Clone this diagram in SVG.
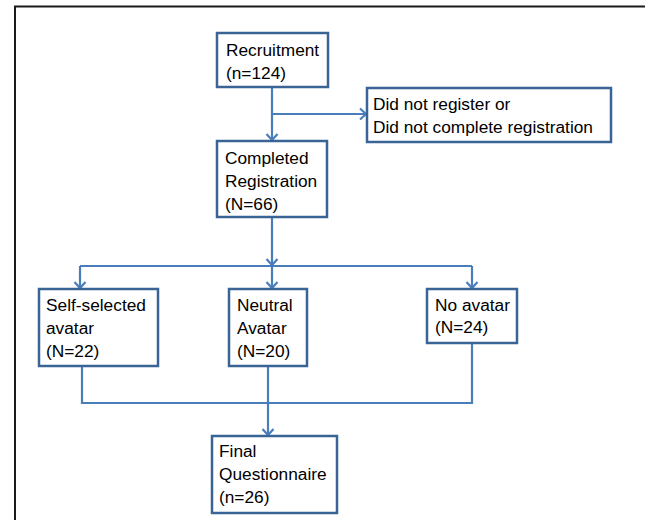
<svg xmlns="http://www.w3.org/2000/svg" width="645" height="520" viewBox="0 0 645 520">
<style>
.box{fill:#fff;stroke:#3a6496;stroke-width:2.5}
.t{font-family:"Liberation Sans",Arial,sans-serif;font-size:17.3px;fill:#000}
.c{fill:none;stroke:#4a7ebb;stroke-width:2.2}
.frame{fill:none;stroke:#1a1a1a;stroke-width:2}
</style>
<defs>
<marker id="arr" markerUnits="userSpaceOnUse" markerWidth="14" markerHeight="14" viewBox="0 0 14 14" refX="12" refY="7" orient="auto">
<path d="M6,1.5 L12,7 L6,12.5" fill="none" stroke="#4a7ebb" stroke-width="2.2"/>
</marker>
</defs>
<rect width="645" height="520" fill="#fff"/>
<path class="frame" d="M15,520 L15,6.5 L645,6.5"/>
<g id="connectors">
<path class="c" d="M272,87 L272,140" marker-end="url(#arr)"/>
<path class="c" d="M272,114 L366,114" marker-end="url(#arr)"/>
<path class="c" d="M272,217 L272,265" marker-end="url(#arr)"/>
<path class="c" d="M80,266 L472,266"/>
<path class="c" d="M80,266 L80,288" marker-end="url(#arr)"/>
<path class="c" d="M272,266 L272,288" marker-end="url(#arr)"/>
<path class="c" d="M472,266 L472,288" marker-end="url(#arr)"/>
<path class="c" d="M82,366 L82,403 L472,403 L472,343"/>
<path class="c" d="M268,366 L268,435" marker-end="url(#arr)"/>
</g>
<g id="recruitment">
<rect class="box" x="217" y="33" width="111" height="54"/>
<text class="t" x="226" y="56">Recruitment</text>
<text class="t" x="226" y="79">(n=124)</text>
</g>
<g id="not-registered">
<rect class="box" x="367" y="88" width="244" height="54"/>
<text class="t" x="373" y="110">Did not register or</text>
<text class="t" x="373" y="133">Did not complete registration</text>
</g>
<g id="completed">
<rect class="box" x="217" y="141" width="110" height="76"/>
<text class="t" x="225" y="164">Completed</text>
<text class="t" x="225" y="187">Registration</text>
<text class="t" x="225" y="210">(N=66)</text>
</g>
<g id="self-selected">
<rect class="box" x="39" y="289" width="119" height="77"/>
<text class="t" x="46" y="311">Self-selected</text>
<text class="t" x="46" y="334">avatar</text>
<text class="t" x="46" y="357">(N=22)</text>
</g>
<g id="neutral">
<rect class="box" x="229" y="289" width="78" height="77"/>
<text class="t" x="237" y="311">Neutral</text>
<text class="t" x="237" y="334">Avatar</text>
<text class="t" x="237" y="357">(N=20)</text>
</g>
<g id="no-avatar">
<rect class="box" x="427" y="289" width="90" height="54"/>
<text class="t" x="435" y="311">No avatar</text>
<text class="t" x="435" y="333">(N=24)</text>
</g>
<g id="final">
<rect class="box" x="212" y="436" width="125" height="77"/>
<text class="t" x="219" y="457">Final</text>
<text class="t" x="219" y="480">Questionnaire</text>
<text class="t" x="219" y="503">(n=26)</text>
</g>
</svg>
